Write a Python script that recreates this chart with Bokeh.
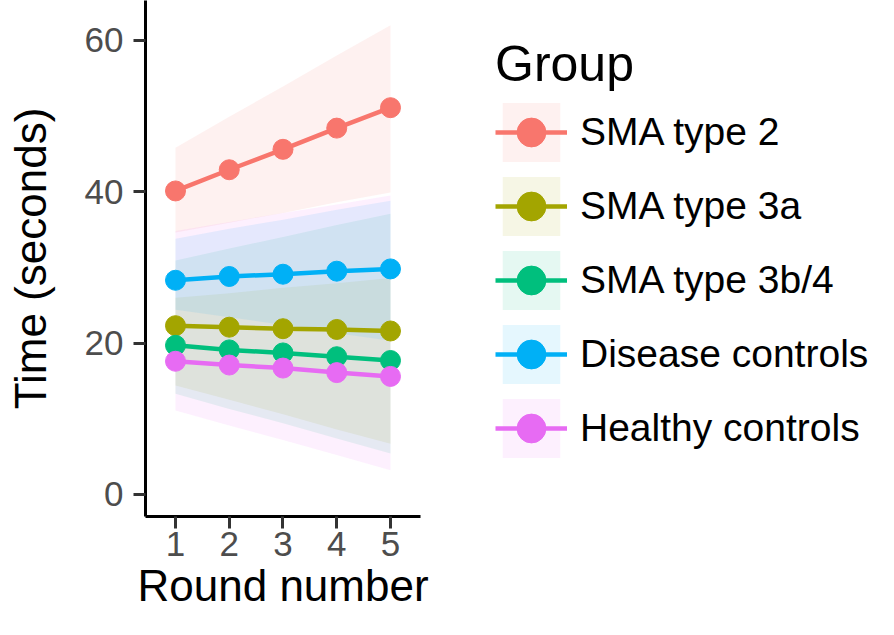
from bokeh.plotting import figure
from bokeh.models import Range1d, Legend, LegendItem, FixedTicker, Title
from bokeh.embed import file_html
from bokeh.resources import INLINE

rounds = [1, 2, 3, 4, 5]
groups = ["SMA type 2", "SMA type 3a", "SMA type 3b/4", "Disease controls", "Healthy controls"]
colors = ["#F8766D", "#A3A500", "#00BF7D", "#00B0F6", "#E76BF3"]

mean_sma2 = [40.1, 42.9, 45.6, 48.4, 51.1]
mean_sma3a = [22.3, 22.1, 21.9, 21.8, 21.6]
mean_sma3b4 = [19.7, 19.1, 18.7, 18.2, 17.7]
mean_disease = [28.3, 28.8, 29.1, 29.5, 29.8]
mean_healthy = [17.6, 17.1, 16.7, 16.1, 15.6]

low_sma2 = [34.6, 35.9, 37.2, 38.6, 39.9]
up_sma2 = [45.8, 49.9, 53.9, 58.0, 62.0]
low_sma3a = [14.4, 12.5, 10.6, 8.6, 6.7]
up_sma3a = [26.0, 26.6, 27.3, 27.9, 28.6]
low_sma3b4 = [13.3, 11.3, 9.4, 7.4, 5.4]
up_sma3b4 = [30.9, 32.5, 34.0, 35.6, 37.1]
low_disease = [24.4, 23.4, 22.4, 21.3, 20.3]
up_disease = [33.8, 35.1, 36.3, 37.6, 38.8]
low_healthy = [11.1, 9.1, 7.2, 5.2, 3.2]
up_healthy = [34.8, 36.0, 37.2, 38.3, 39.5]

means = [mean_sma2, mean_sma3a, mean_sma3b4, mean_disease, mean_healthy]
lows = [low_sma2, low_sma3a, low_sma3b4, low_disease, low_healthy]
ups = [up_sma2, up_sma3a, up_sma3b4, up_disease, up_healthy]

FONT = "Liberation Sans"
W, H = 878, 619
LEFT, BOTTOM = 145, 103
X0, X1 = 0.442, 5.558                 # drawn extent of the x axis
X_END = X0 + (W - LEFT) / 53.75       # frame continues right (legend area)

p = figure(width=W, height=H, output_backend="svg", toolbar_location=None,
           x_range=Range1d(X0, X_END), y_range=Range1d(-2.91, 65.26),
           min_border_left=LEFT, min_border_right=0, min_border_top=0,
           min_border_bottom=BOTTOM)
p.background_fill_color = "white"
p.border_fill_color = "white"
p.outline_line_color = None
p.grid.visible = False

bands, lines, dots = [], [], []
for lo, up, c in zip(lows, ups, colors):
    bands.append(p.varea(x=rounds, y1=lo, y2=up, fill_color=c, fill_alpha=0.1))
for m, c in zip(means, colors):
    lines.append(p.line(x=rounds, y=m, line_color=c, line_width=4.5))
    dots.append(p.scatter(x=rounds, y=m, size=20, fill_color=c, line_color=c))

for ax in (p.xaxis[0], p.yaxis[0]):
    ax.axis_line_color = "black"
    ax.axis_line_width = 3
    ax.major_tick_line_color = "#333333"
    ax.major_tick_line_width = 3
    ax.major_tick_out = 12
    ax.major_tick_in = 0
    ax.minor_tick_line_color = None
    ax.major_label_text_font = FONT
    ax.major_label_text_font_size = "35px"
    ax.major_label_text_color = "#4D4D4D"
    ax.axis_label_text_font = FONT
    ax.axis_label_text_font_size = "44px"
    ax.axis_label_text_font_style = "normal"
    ax.axis_label_text_color = "black"

p.xaxis.bounds = (X0, X1)
p.xaxis.ticker = FixedTicker(ticks=rounds)
p.yaxis.ticker = FixedTicker(ticks=[0, 20, 40, 60])
p.yaxis.axis_label = "Time (seconds)"
p.xaxis.major_label_standoff = 3
p.yaxis.major_label_standoff = 10
p.yaxis.axis_label_standoff = 27

xtitle = Title(text="Round number", align="left", offset=-8, standoff=0,
               text_font=FONT, text_font_size="44px", text_font_style="normal",
               text_color="black")
p.add_layout(xtitle, "below")

items = [LegendItem(label=g, renderers=[b, l, d]) for g, b, l, d in zip(groups, bands, lines, dots)]
legend = Legend(items=items, title="Group", location=(350, 51),
                glyph_width=72, glyph_height=74, spacing=0, padding=0, margin=0,
                label_standoff=13, border_line_color=None, background_fill_alpha=0,
                label_text_font=FONT, label_text_font_size="39px", label_text_color="black",
                label_text_baseline="middle",
                title_text_font=FONT, title_text_font_size="50px", title_text_font_style="normal",
                title_text_color="black", title_standoff=2)
p.add_layout(legend, "center")

open("out.html", "w").write(file_html(p, INLINE))
